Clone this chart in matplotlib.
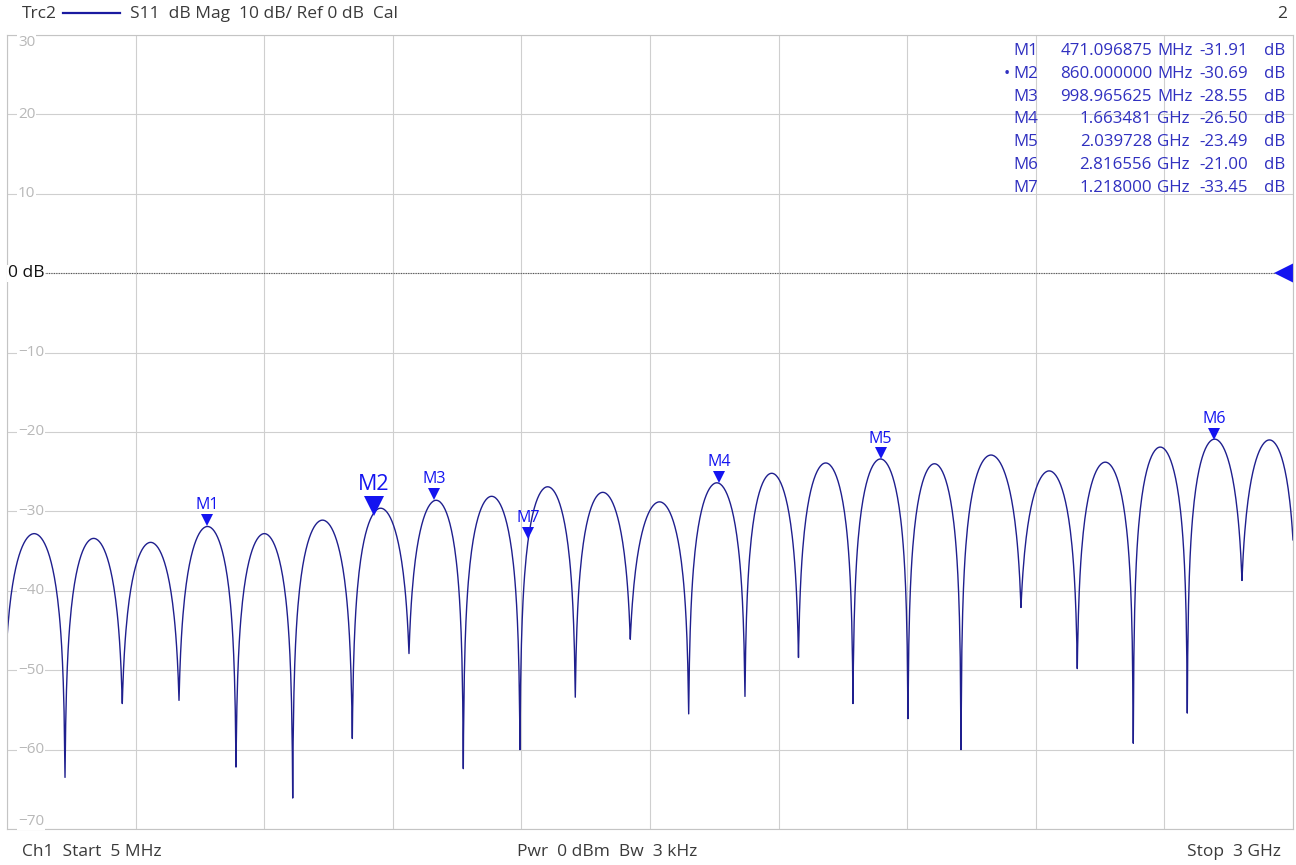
import numpy as np
import matplotlib.pyplot as plt
from matplotlib import transforms

W, H = 1296, 865
plt.rcParams['font.family'] = ['Open Sans', 'DejaVu Sans']

# Sweep range (MHz) and display scale (dB)
f_start, f_stop = 5.0, 3000.0
y_top, y_bot = 30, -70

# Ripple nulls of the S11 trace (MHz) and how deep each one goes (dB)
null_freq = [-3.5, 140.1, 273.5, 405.6, 538.3, 670.4, 809.2, 941.2, 1067.7,
             1199.7, 1328.5, 1456.6, 1592.6, 1723.7, 1848.3, 1975.2, 2103.3,
             2226.8, 2366.5, 2497.6, 2628.0, 2753.8, 2881.2, 3009.0]
null_db = [-60.0, -63.5, -54.2, -53.8, -62.2, -66.1, -58.6, -47.9, -62.4,
           -60.0, -53.4, -46.1, -55.5, -53.3, -48.4, -54.2, -56.1,
           -60.0, -42.1, -49.8, -59.2, -55.4, -38.7, -60.0]
# top of each lobe between two neighbouring nulls (dB)
lobe_db = [-32.8, -33.4, -33.9, -31.9, -32.8, -31.1, -29.6, -28.6, -28.1,
           -26.9, -27.6, -28.8, -26.4, -25.2, -23.9, -23.4, -24.0, -22.9,
           -24.9, -23.8, -21.9, -20.9, -21.0]

# Markers
mk_name = ['M1', 'M2', 'M3', 'M4', 'M5', 'M6', 'M7']
mk_freq = [471.096875, 860.0, 998.965625, 1663.481, 2039.728, 2816.556, 1218.0]
mk_db = [-31.91, -30.69, -28.55, -26.50, -23.49, -21.00, -33.45]
active = 'M2'

header = 'S11  dB Mag  10 dB/ Ref 0 dB  Cal'
footer = ['Ch1  Start  5 MHz', 'Pwr  0 dBm  Bw  3 kHz', 'Stop  3 GHz']

trace_col = '#1f1f8e'
mark_col = '#1414f0'
table_col = '#3030c0'
text_col = '#3a3a3a'


def px(x, y):
    return x / W, 1 - y / H


# Build the trace: each lobe is a standing-wave arch between two nulls
freq = np.union1d(np.linspace(f_start, f_stop, 1601),
                  [f for f in null_freq if f_start <= f <= f_stop])
mag = np.zeros_like(freq)
for i in range(len(lobe_db)):
    a, b = null_freq[i], null_freq[i + 1]
    sel = (freq >= a) & (freq <= b)
    u = (freq[sel] - a) / (b - a)
    ea = 10 ** ((null_db[i] - lobe_db[i]) / 20)
    eb = 10 ** ((null_db[i + 1] - lobe_db[i]) / 20)
    eps = ea + (eb - ea) * u
    s = np.abs(np.sin(np.pi * u))
    mag[sel] = lobe_db[i] + 20 * np.log10(s * (1 - eps) + eps)

fig = plt.figure(figsize=(W / 100, H / 100), dpi=100)
ax = fig.add_axes([7 / W, 36 / H, 1286 / W, 794 / H])
ax.set_xlim(f_start, f_stop)
ax.set_ylim(y_bot, y_top)
ax.set_xticks(np.linspace(f_start, f_stop, 11))
ax.set_yticks(np.arange(y_bot, y_top + 1, 10))
ax.grid(True, color='#cfcfcf', lw=0.8)
ax.tick_params(length=0, labelbottom=False, labelleft=False)
for sp in ax.spines.values():
    sp.set_color('#c4c4c4')
    sp.set_linewidth(0.8)

# reference line at 0 dB, with the reference arrow on the right edge
ax.plot([95, 2975], [0, 0], ls=(0, (1, 1.2)), color='#555555', lw=0.8)
ax.plot([2979], [0], marker='<', ms=14, color=mark_col, mew=0, clip_on=False)

# scale labels on the left
for v in range(y_bot, y_top + 1, 10):
    if v == 0:
        continue
    va = 'center'
    if v == y_top:
        va = 'top'
    elif v == y_bot:
        va = 'bottom'
    ax.text(0.0085, v, str(v).replace('-', '\u2212'), transform=ax.get_yaxis_transform(),
            color='#b8b8b8', fontsize=11, va=va, ha='left',
            bbox=dict(facecolor='white', edgecolor='none', pad=0.5))
ax.text(0.0005, 0, '0 dB', transform=ax.get_yaxis_transform(), color='#111111',
        fontsize=12.5, va='center', ha='left',
        bbox=dict(facecolor='white', edgecolor='none', pad=0.5))

ax.plot(freq, mag, color=trace_col, lw=1.0)

# marker triangles with their names above
for name, f, v in zip(mk_name, mk_freq, mk_db):
    big = name == active
    ms = 15 if big else 9
    tr = transforms.offset_copy(ax.transData, fig=fig, x=0, y=ms / 2, units='points')
    ax.plot([f], [v], marker='v', ms=ms, color=mark_col, transform=tr, mew=0)
    tr2 = transforms.offset_copy(ax.transData, fig=fig, x=0, y=ms + 0.5, units='points')
    ax.text(f, v, name, transform=tr2, ha='center', va='bottom', color=mark_col,
            fontsize=15.5 if big else 11.5)

# marker readout table
for i, (name, f, v) in enumerate(zip(mk_name, mk_freq, mk_db)):
    y = 51 + i * 22.8
    if f < 1000:
        num, unit = '%.6f' % f, 'MHz'
    else:
        num, unit = '%.6f' % (f / 1000), 'GHz'
    kw = dict(color=table_col, fontsize=12.2, va='center')
    if name == active:
        fig.text(*px(1004, y), '\u2022', ha='left', **kw)
    fig.text(*px(1013, y), name, ha='left', **kw)
    fig.text(*px(1152, y), num, ha='right', **kw)
    fig.text(*px(1157, y), unit, ha='left', **kw)
    fig.text(*px(1248, y), '%.2f' % v, ha='right', **kw)
    fig.text(*px(1264, y), 'dB', ha='left', **kw)

# header and footer lines
fig.text(*px(22, 14), 'Trc2', color=text_col, fontsize=12.5, va='center')
fig.add_artist(plt.Line2D([63 / W, 120 / W], [1 - 13 / H, 1 - 13 / H],
                          color='#1a1aa0', lw=1.6))
fig.text(*px(130, 14), header, color=text_col, fontsize=12.5, va='center')
fig.text(*px(1287, 14), '2', color=text_col, fontsize=12.5, va='center', ha='right')
fig.text(*px(22, 852), footer[0], color=text_col, fontsize=12.5, va='center')
fig.text(*px(517, 852), footer[1], color=text_col, fontsize=12.5, va='center')
fig.text(*px(1281, 852), footer[2], color=text_col, fontsize=12.5, va='center', ha='right')

fig.savefig('out.png', dpi=100, facecolor='white')
